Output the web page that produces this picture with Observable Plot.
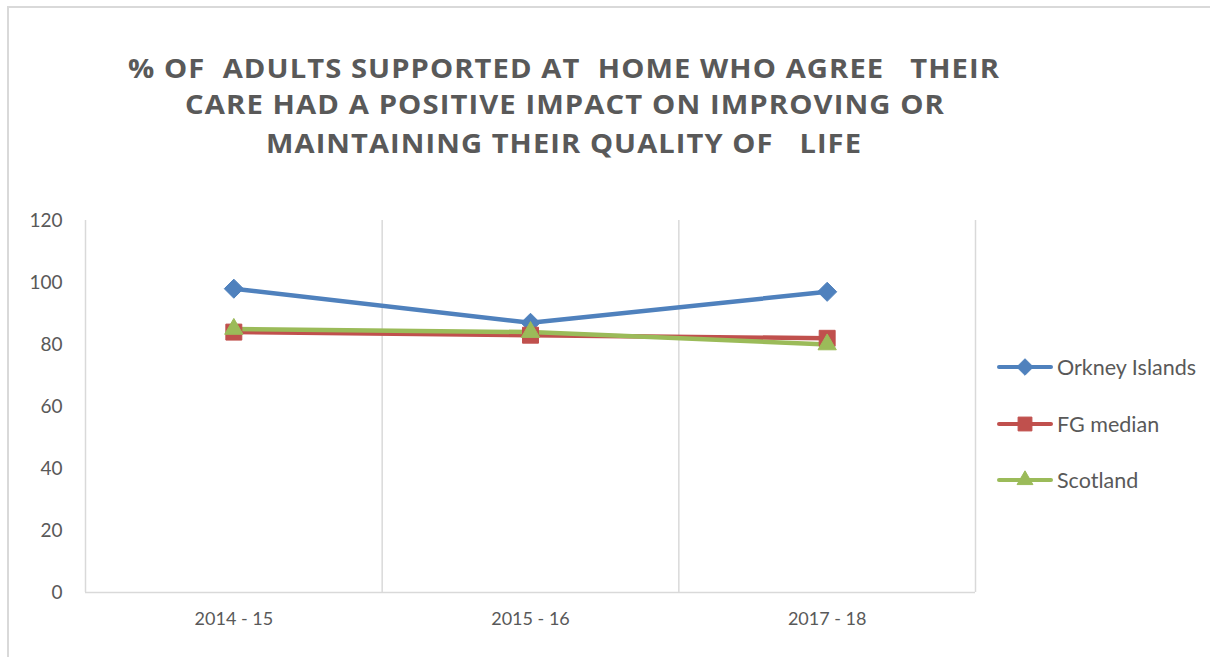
<!DOCTYPE html>
<html>
<head>
<meta charset="utf-8">
<script src="https://cdn.jsdelivr.net/npm/d3@7"></script>
<script src="https://cdn.jsdelivr.net/npm/@observablehq/plot@0.6"></script>
<style>
  html, body { margin: 0; padding: 0; background: #fff; }
  #wrap { position: relative; width: 1210px; height: 657px; overflow: hidden; background: #fff; }
  #frame { position: absolute; left: 7px; top: 6px; width: 1300px; height: 700px; border-left: 2px solid #d9d9d9; border-top: 2px solid #d9d9d9; box-sizing: border-box; }
  #chart { position: absolute; left: 0; top: 0; }
  #title { position: absolute; left: 0; top: 0; }
  #legend { position: absolute; left: 996px; top: 352px; font-family: Lato, "Open Sans", sans-serif; font-size: 21.5px; color: #595959; }
  .item { display: flex; align-items: center; height: 30px; margin-bottom: 26.5px; }
  .item span { margin-left: 3px; }
</style>
</head>
<body>
<div id="wrap">
  <div id="frame"></div>
  <div id="chart"></div>
  <svg id="title" width="1210" height="180"></svg>
  <div id="legend"></div>
</div>
<script>
const categories = ["2014 - 15", "2015 - 16", "2017 - 18"];
const seriesNames = ["Orkney Islands", "FG median", "Scotland"];
const orkney = [98, 87, 97];
const fgMedian = [84, 83, 82];
const scotland = [85, 84, 80];
const yTicks = [0, 20, 40, 60, 80, 100, 120];
const titleLines = [
  "% OF  ADULTS SUPPORTED AT  HOME WHO AGREE   THEIR",
  "CARE HAD A POSITIVE IMPACT ON IMPROVING OR",
  "MAINTAINING THEIR QUALITY OF   LIFE"
];

const colors = ["#4f81bd", "#c0504d", "#9bbb59"];
const symbols = ["diamond2", "square", "triangle"];
const radii = [8.6, 9, 6.8];
const seriesValues = [orkney, fgMedian, scotland];

const data = [];
seriesValues.forEach((vals, s) => vals.forEach((v, i) => data.push({series: seriesNames[s], i, value: v})));
const boundaries = d3.range(categories.length + 1).map(k => k - 0.5);

const marks = [
  Plot.ruleX(boundaries, {x: d => d, y1: 0, y2: 120, stroke: "#d9d9d9", strokeWidth: 1.5}),
  Plot.ruleY([0], {stroke: "#d9d9d9", strokeWidth: 1.5}),
  Plot.axisY({ticks: yTicks, tickSize: 0, tickPadding: 23, label: null, fontSize: 19, fill: "#595959"}),
  Plot.axisX({ticks: d3.range(categories.length), tickFormat: i => categories[i], tickSize: 0, tickPadding: 20, label: null, fontSize: 18, fill: "#595959"})
];
seriesNames.forEach((name, s) => {
  const sub = data.filter(d => d.series === name);
  marks.push(Plot.line(sub, {x: "i", y: "value", stroke: colors[s], strokeWidth: 4.5, strokeLinejoin: "round", strokeLinecap: "round"}));
});
seriesNames.forEach((name, s) => {
  const sub = data.filter(d => d.series === name);
  marks.push(Plot.dot(sub, {x: "i", y: "value", symbol: () => symbols[s], r: radii[s], fill: colors[s], stroke: colors[s], strokeWidth: 1}));
});

const chart = Plot.plot({
  width: 1210,
  height: 657,
  marginLeft: 85,
  marginRight: 235,
  marginTop: 220,
  marginBottom: 65,
  style: {fontFamily: "Lato, 'Open Sans', sans-serif", background: "transparent"},
  x: {type: "linear", domain: [-0.5, categories.length - 0.5], axis: null},
  y: {domain: [0, 120], axis: null},
  symbol: {type: "identity"},
  marks
});
document.getElementById("chart").appendChild(chart);

// Title
const t = d3.select("#title");
const lineSpec = [
  {x1: 128, x2: 1000, y: 78},
  {x1: 185, x2: 945, y: 114},
  {x1: 266, x2: 862, y: 153}
];
titleLines.forEach((txt, k) => {
  t.append("text")
    .attr("x", lineSpec[k].x1)
    .attr("y", lineSpec[k].y)
    .attr("textLength", lineSpec[k].x2 - lineSpec[k].x1)
    .attr("lengthAdjust", "spacingAndGlyphs")
    .attr("xml:space", "preserve")
    .style("white-space", "pre")
    .attr("font-family", "'Open Sans', Lato, sans-serif")
    .attr("font-weight", "bold")
    .attr("font-size", 27)
    .attr("letter-spacing", 1)
    .attr("fill", "#595959")
    .text(txt);
});

// Legend
const legend = d3.select("#legend");
seriesNames.forEach((name, s) => {
  const item = legend.append("div").attr("class", "item");
  const sv = item.append("svg").attr("width", 58).attr("height", 30);
  sv.append("line").attr("x1", 3).attr("x2", 55).attr("y1", 15).attr("y2", 15)
    .attr("stroke", colors[s]).attr("stroke-width", 4).attr("stroke-linecap", "round");
  const sym = {"diamond2": d3.symbolDiamond2, "square": d3.symbolSquare, "triangle": d3.symbolTriangle}[symbols[s]];
  const size = Math.PI * radii[s] * radii[s] * 0.75;
  sv.append("path").attr("d", d3.symbol(sym, size)()).attr("transform", "translate(29,15)")
    .attr("fill", colors[s]).attr("stroke", colors[s]);
  item.append("span").text(name);
});
</script>
</body>
</html>
